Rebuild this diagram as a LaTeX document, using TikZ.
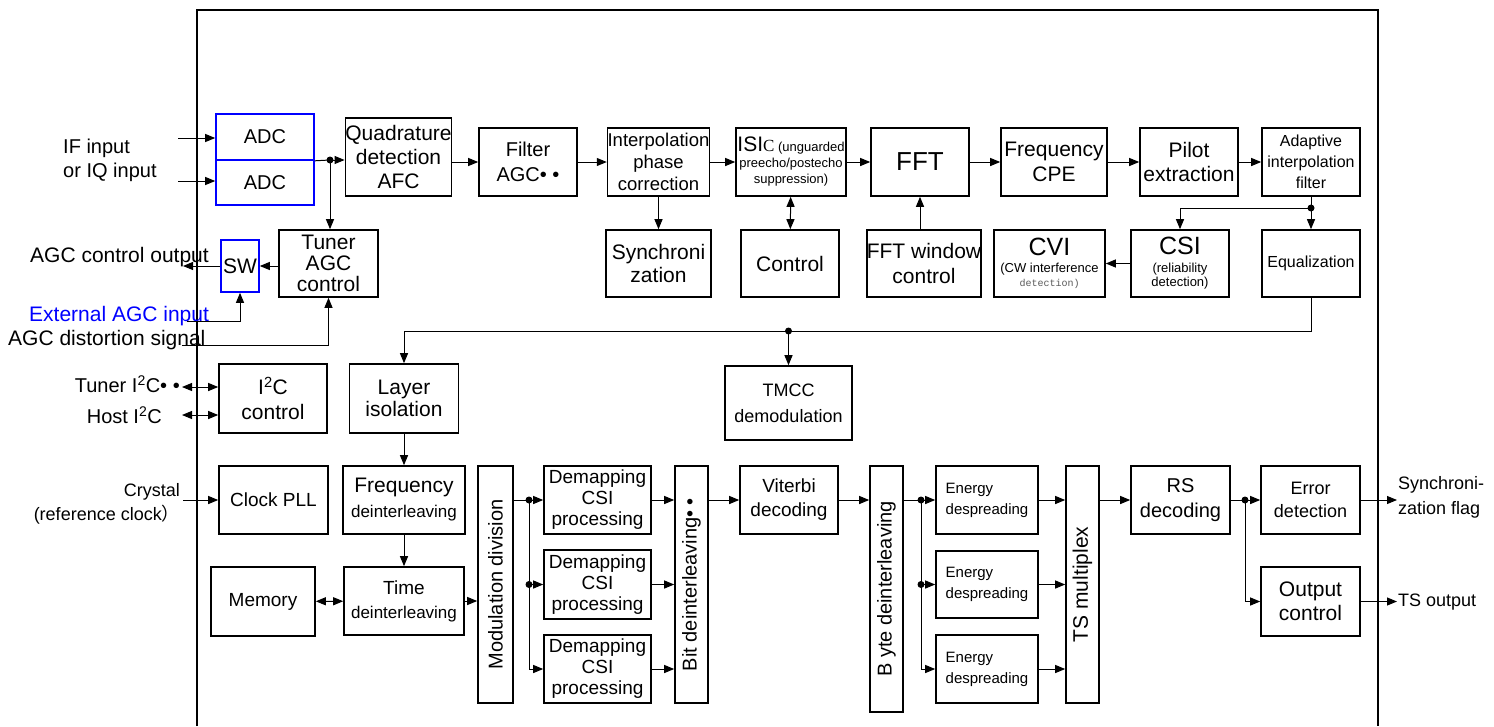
\documentclass[tikz,border=0pt]{standalone}
\usepackage{fontspec}
\setmainfont{Liberation Sans}
\newfontfamily\serifC{Liberation Serif}
\newfontfamily\monofont{Liberation Mono}
\newfontfamily\cjk{Noto Sans CJK SC}
\usetikzlibrary{arrows.meta}
\newcommand{\fsz}[2]{\fontsize{#1}{#2}\selectfont}
\tikzset{
  box/.style={draw, line width=1.6pt, inner sep=0pt, align=center, font=\fsz{20}{23}},
  bluebox/.style={box, draw=blue},
  link/.style={line width=1pt},
  frame/.style={line width=2pt},
  lbl/.style={inner sep=0pt, font=\fsz{20}{24}},
  >={Triangle[length=10pt,width=8pt]}
}
\begin{document}
\begin{tikzpicture}[x=1pt,y=-1pt]
\useasboundingbox (0,0) rectangle (1494,726);
\draw[frame] (197,726) -- (197,10) -- (1378,10) -- (1378,726);

% front end
\node[bluebox, minimum width=98pt, minimum height=46pt] (adc1) at (265,137) {ADC};
\node[bluebox, minimum width=98pt, minimum height=45pt] (adc2) at (265,182.5) {ADC};
\node[box, minimum width=97pt, minimum height=78pt, font=\fsz{21}{24}] (quad) at (398.5,157) {Quadrature\\detection\\AFC};
\node[box, minimum width=98pt, minimum height=68pt, font=\fsz{20}{25}] (filt) at (528,162) {Filter\\AGC• •};
\node[box, minimum width=99pt, minimum height=68pt, font=\fsz{18.5}{22}] (interp) at (658.5,162) {Interpolation\\phase\\correction};
\node[box, minimum width=110pt, minimum height=68pt, font=\fsz{13}{16}] (isi) at (791,162) {{\fsz{21}{16}ISI}{\serifC\fsz{17}{16}C}\ (unguarded\\preecho/postecho\\suppression)};
\node[box, minimum width=98pt, minimum height=68pt, font=\fsz{26}{28}] (fft) at (920,162) {FFT};
\node[box, minimum width=106pt, minimum height=68pt, font=\fsz{21}{25}] (cpe) at (1054,162) {Frequency\\CPE};
\node[box, minimum width=98pt, minimum height=68pt, font=\fsz{21}{24}] (pilot) at (1189,162) {Pilot\\extraction};
\node[box, minimum width=98pt, minimum height=68pt, font=\fsz{16}{21}] (adapt) at (1311,162) {Adaptive\\interpolation\\filter};

% second row
\node[box, minimum width=99pt, minimum height=67pt, font=\fsz{21}{21}] (tuner) at (328.5,263.5) {Tuner\\AGC\\control};
\node[bluebox, minimum width=38pt, minimum height=52pt, font=\fsz{21}{23}] (sw) at (240,266) {SW};
\node[box, minimum width=105pt, minimum height=67pt, font=\fsz{21}{23}] (sync) at (658.5,263.5) {Synchroni\\zation};
\node[box, minimum width=98pt, minimum height=67pt, font=\fsz{21}{23}] (ctrl) at (790,263.5) {Control};
\node[box, minimum width=110pt, minimum height=67pt, font=\fsz{21}{25}] (fftw) at (924,263.5) {FFT window\\control};
\node[box, minimum width=111pt, minimum height=67pt, font=\fsz{13}{14}] (cvi) at (1049.5,263.5) {{\fsz{25}{22}CVI}\\[3pt](CW interference\\{\monofont\fsz{10}{14}\color{gray!70!black}detection)}};
\node[box, minimum width=98pt, minimum height=67pt, font=\fsz{13}{14}] (csi) at (1180,263.5) {{\fsz{25}{22}CSI}\\[4pt](reliability\\detection)};
\node[box, minimum width=98pt, minimum height=67pt, font=\fsz{16}{20}] (equal) at (1311,263.5) {Equalization};

% third row
\node[box, minimum width=108pt, minimum height=69pt, font=\fsz{21}{25}] (i2c) at (273,398.5) {I\textsuperscript{2}C\\control};
\node[box, minimum width=109pt, minimum height=69pt, font=\fsz{21}{22}] (layer) at (404,398.5) {Layer\\isolation};
\node[box, minimum width=127pt, minimum height=74pt, font=\fsz{18}{26}] (tmcc) at (788.5,403) {TMCC\\demodulation};

% back end
\node[box, minimum width=109pt, minimum height=68pt, font=\fsz{19}{23}] (clk) at (273.5,500) {Clock PLL};
\node[box, minimum width=122pt, minimum height=68pt, font=\fsz{17}{25}] (fdi) at (404,500) {{\fsz{21}{25}Frequency}\\deinterleaving};
\node[box, minimum width=120pt, minimum height=68pt, font=\fsz{17}{24}] (tdi) at (404,601) {{\fsz{19}{24}Time}\\deinterleaving};
\node[box, minimum width=104pt, minimum height=69pt, font=\fsz{19}{23}] (mem) at (263,601.5) {Memory};
\node[box, minimum width=35pt, minimum height=237pt] (mod) at (495.5,584.5) {};
\node[rotate=90, font=\fsz{20}{24}] (modtxt) at (mod) {Modulation division};
\foreach \i/\y/\h in {1/500/68, 2/584.5/69, 3/669/68}
  \node[box, minimum width=107pt, minimum height=\h pt, font=\fsz{19}{21}] (dm\i) at (597.5,\y) {Demapping\\CSI\\processing};
\node[box, minimum width=33pt, minimum height=237pt] (bit) at (691.5,584.5) {};
\node[rotate=90, font=\fsz{20}{24}] (bittxt) at (bit) {Bit deinterleaving• •};
\node[box, minimum width=98pt, minimum height=68pt, font=\fsz{19}{24}] (vit) at (789,500) {Viterbi\\decoding};
\node[box, minimum width=33pt, minimum height=246pt] (byte) at (886.5,589) {};
\node[rotate=90, font=\fsz{20}{24}] (bytetxt) at (byte) {B yte deinterleaving};
\foreach \i/\y/\h in {1/500/68, 2/584.5/67, 3/669/68}
  \node[box, minimum width=102pt, minimum height=\h pt, align=left, font=\fsz{15}{21}] (en\i) at (987,\y) {Energy\\despreading};
\node[box, minimum width=33pt, minimum height=237pt] (tsm) at (1082.5,584.5) {};
\node[rotate=90, font=\fsz{21}{24}] (tsmtxt) at (tsm) {TS multiplex};
\node[box, minimum width=99pt, minimum height=68pt, font=\fsz{20}{25}] (rs) at (1180.5,500) {RS\\decoding};
\node[box, minimum width=99pt, minimum height=68pt, font=\fsz{18}{23}] (err) at (1310.5,500) {Error\\detection};
\node[box, minimum width=99pt, minimum height=69pt, font=\fsz{21}{24}] (outc) at (1310.5,601.5) {Output\\control};

% outside labels
\node[lbl, anchor=west, align=left] (iftxt) at (63,160) {IF input\\or IQ input};
\node[lbl, anchor=west, font=\fsz{21}{24}] (agcouttxt) at (30,257) {AGC control output};
\node[lbl, anchor=west, font=\fsz{21}{24}, text=blue] (exttxt) at (29,316) {External AGC input};
\node[lbl, anchor=west, font=\fsz{21}{24}] (disttxt) at (8,340) {AGC distortion signal};
\node[lbl, anchor=east] (tuni2ctxt) at (180,384) {Tuner I\textsuperscript{2}C• •};
\node[lbl, anchor=east] (hosti2ctxt) at (162,415) {Host I\textsuperscript{2}C};
\node[lbl, anchor=east, align=right, font=\fsz{18}{24}] (xtaltxt) at (180,504) {Crystal\\(reference clock{\cjk ）}};
\node[lbl, anchor=west, align=left, font=\fsz{18}{25}] (synctxt) at (1398,497) {Synchroni-\\zation flag};
\node[lbl, anchor=west, font=\fsz{18}{24}] (tsouttxt) at (1398,602) {TS output};

% free ends and junctions
\coordinate (ifin) at (178,138);
\coordinate (iqin) at (178,181);
\coordinate (agcout) at (183,266);
\coordinate (extin) at (187,321);
\coordinate (distin) at (182,345);
\coordinate (tunl) at (182,387);
\coordinate (hostl) at (182,415);
\coordinate (xtal) at (183,500);
\coordinate (syncout) at (1397,500);
\coordinate (tsout) at (1397,601.5);
\coordinate (adcj) at (330,160);
\coordinate (eqj) at (1311,208);
\coordinate (busR) at (1311,331);
\coordinate (tmj) at (788.5,331);
\coordinate (modj1) at (529,500);
\coordinate (modj2) at (529,584.5);
\coordinate (bytej1) at (921,500);
\coordinate (bytej2) at (921,584.5);
\coordinate (rsj) at (1245,500);

% front end links
\draw[link,->] (ifin) -- (ifin -| adc1.west);
\draw[link,->] (iqin) -- (iqin -| adc2.west);
\draw[link] (adc1.south east) -- (adcj);
\draw[link,->] (adcj) -- (adcj -| quad.west);
\draw[link,->] (adcj) -- (adcj |- tuner.north);
\draw[link,->] (quad.east |- filt) -- (filt.west);
\draw[link,->] (filt) -- (interp);
\draw[link,->] (interp) -- (isi);
\draw[link,->] (isi) -- (fft);
\draw[link,->] (fft) -- (cpe);
\draw[link,->] (cpe) -- (pilot);
\draw[link,->] (pilot) -- (adapt);
\draw[link,->] (interp) -- (sync);
\draw[link,<->] (isi) -- (ctrl);
\draw[link,->] (fftw.north -| fft) -- (fft.south);
\draw[link] (adapt) -- (eqj);
\draw[link,->] (eqj) -- (equal);
\draw[link,->] (eqj) -| (csi.north);
\draw[link,->] (csi) -- (cvi);
\draw[link,->] (tuner.west |- sw) -- (sw.east);
\draw[link,->] (sw) -- (agcout);
\draw[link,->] (extin) -| (sw.south);
\draw[link,->] (distin) -| (tuner.south);
\draw[link,<->] (tunl) -- (tunl -| i2c.west);
\draw[link,<->] (hostl) -- (hostl -| i2c.west);

% bus to back end
\draw[link,->] (equal) -- (busR) -| (layer.north);
\draw[link,->] (tmj) -- (tmcc);
\draw[link,->] (xtal) -- (clk.west);
\draw[link,->] (layer) -- (fdi);
\draw[link,->] (fdi) -- (tdi);
\draw[link,<->] (mem) -- (tdi);
\draw[link,->] (tdi.east) -- (tdi.east -| mod.west);
\draw[link] (mod.east |- modj1) -- (modj1);
\draw[link,->] (modj1) -- (dm1.west);
\draw[link,->] (modj2) -- (dm2.west);
\draw[link,->] (modj1) |- (dm3.west);
\foreach \i in {1,2,3}
  \draw[link,->] (dm\i.east) -- (dm\i.east -| bit.west);
\draw[link,->] (bit.east |- vit) -- (vit.west);
\draw[link,->] (vit.east) -- (vit.east -| byte.west);
\draw[link] (byte.east |- bytej1) -- (bytej1);
\draw[link,->] (bytej1) -- (en1.west);
\draw[link,->] (bytej2) -- (en2.west);
\draw[link,->] (bytej1) |- (en3.west);
\foreach \i in {1,2,3}
  \draw[link,->] (en\i.east) -- (en\i.east -| tsm.west);
\draw[link,->] (tsm.east |- rs) -- (rs.west);
\draw[link] (rs) -- (rsj);
\draw[link,->] (rsj) -- (err);
\draw[link,->] (rsj) |- (outc.west);
\draw[link,->] (err) -- (syncout);
\draw[link,->] (outc) -- (tsout);

% junction dots
\foreach \j in {adcj,eqj,tmj,modj1,modj2,bytej1,bytej2,rsj}
  \fill (\j) circle (3.5pt);
\end{tikzpicture}
\end{document}
